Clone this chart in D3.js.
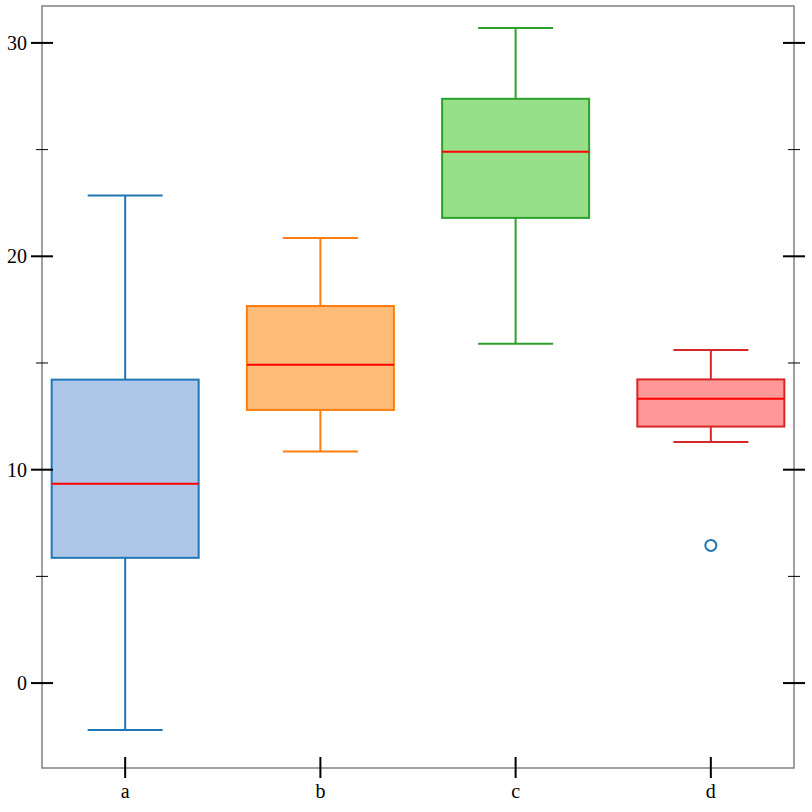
<!DOCTYPE html>
<html>
<head>
<meta charset="utf-8">
<script src="https://cdn.jsdelivr.net/npm/d3@7"></script>
<style>
  body { margin: 0; background: #fff; }
  text { font-family: "Liberation Serif", "DejaVu Serif", serif; font-size: 20px; fill: #000; }
</style>
</head>
<body>
<div id="chart"></div>
<script>
// box statistics per category
var categories = ["a", "b", "c", "d"];
var whiskerLow = [-2.2, 10.85, 15.9, 11.3];
var q1 = [5.87, 12.8, 21.8, 12.02];
var medians = [9.34, 14.92, 24.9, 13.32];
var q3 = [14.22, 17.67, 27.38, 14.23];
var whiskerHigh = [22.85, 20.86, 30.7, 15.61];
var outliers = [{cat: "d", value: 6.45}];

var yTicks = [0, 10, 20, 30];
var yMinorTicks = [5, 15, 25];

var strokeColors = ["#1f77b4", "#ff7f0e", "#2ca02c", "#d62728"];
var fillColors = ["#aec7e8", "#ffbb78", "#98df8a", "#ff9896"];

var W = 812, H = 812;
var margin = {left: 42, right: 18, top: 6, bottom: 44};

var svg = d3.select("#chart").append("svg")
    .attr("width", W)
    .attr("height", H);

var x = d3.scalePoint()
    .domain(categories)
    .range([margin.left, W - margin.right])
    .padding(0.426);

var y = d3.scaleLinear()
    .domain([-3.98, 31.73])
    .range([H - margin.bottom, margin.top]);

var boxW = 147, capW = 75;

var data = categories.map(function(c, i) {
  return {cat: c, lo: whiskerLow[i], q1: q1[i], med: medians[i], q3: q3[i], hi: whiskerHigh[i],
          stroke: strokeColors[i], fill: fillColors[i]};
});

var boxes = svg.append("g").selectAll("g").data(data).enter().append("g");

// whiskers
boxes.append("line")
    .attr("x1", d => x(d.cat)).attr("x2", d => x(d.cat))
    .attr("y1", d => y(d.hi)).attr("y2", d => y(d.q3))
    .attr("stroke", d => d.stroke).attr("stroke-width", 2);
boxes.append("line")
    .attr("x1", d => x(d.cat)).attr("x2", d => x(d.cat))
    .attr("y1", d => y(d.q1)).attr("y2", d => y(d.lo))
    .attr("stroke", d => d.stroke).attr("stroke-width", 2);

// caps
["hi", "lo"].forEach(function(k) {
  boxes.append("line")
      .attr("x1", d => x(d.cat) - capW / 2).attr("x2", d => x(d.cat) + capW / 2)
      .attr("y1", d => y(d[k])).attr("y2", d => y(d[k]))
      .attr("stroke", d => d.stroke).attr("stroke-width", 2);
});

// boxes
boxes.append("rect")
    .attr("x", d => x(d.cat) - boxW / 2)
    .attr("width", boxW)
    .attr("y", d => y(d.q3))
    .attr("height", d => y(d.q1) - y(d.q3))
    .attr("fill", d => d.fill)
    .attr("stroke", d => d.stroke)
    .attr("stroke-width", 2);

// medians
boxes.append("line")
    .attr("x1", d => x(d.cat) - boxW / 2).attr("x2", d => x(d.cat) + boxW / 2)
    .attr("y1", d => y(d.med)).attr("y2", d => y(d.med))
    .attr("stroke", "#ff0000").attr("stroke-width", 2);

// outliers
svg.append("g").selectAll("circle").data(outliers).enter().append("circle")
    .attr("cx", d => x(d.cat))
    .attr("cy", d => y(d.value))
    .attr("r", 5.5)
    .attr("fill", "none")
    .attr("stroke", "#1f77b4")
    .attr("stroke-width", 2);

// frame
svg.append("rect")
    .attr("x", margin.left).attr("y", margin.top)
    .attr("width", W - margin.right - margin.left)
    .attr("height", H - margin.bottom - margin.top)
    .attr("fill", "none")
    .attr("stroke", "#808080")
    .attr("stroke-width", 1.5);

var left = margin.left, right = W - margin.right, bottom = H - margin.bottom;

// y ticks, crossing both sides of the frame
var yt = svg.append("g");
yt.selectAll(".maj").data(yTicks).enter().append("g").each(function(v) {
  var g = d3.select(this);
  [left, right].forEach(function(px) {
    g.append("line").attr("x1", px - 11).attr("x2", px + 11)
      .attr("y1", y(v)).attr("y2", y(v))
      .attr("stroke", "#000").attr("stroke-width", 2);
  });
  g.append("text").attr("x", left - 15).attr("y", y(v))
    .attr("text-anchor", "end").attr("dy", "0.35em").text(v);
});
yt.selectAll(".min").data(yMinorTicks).enter().append("g").each(function(v) {
  var g = d3.select(this);
  [left, right].forEach(function(px) {
    g.append("line").attr("x1", px - 6).attr("x2", px + 6)
      .attr("y1", y(v)).attr("y2", y(v))
      .attr("stroke", "#000").attr("stroke-width", 1);
  });
});

// x ticks
var xt = svg.append("g").selectAll("g").data(categories).enter().append("g");
xt.append("line")
    .attr("x1", d => x(d)).attr("x2", d => x(d))
    .attr("y1", bottom - 11).attr("y2", bottom + 10)
    .attr("stroke", "#000").attr("stroke-width", 2);
xt.append("text")
    .attr("x", d => x(d)).attr("y", bottom + 30)
    .attr("text-anchor", "middle")
    .text(d => d);
</script>
</body>
</html>
